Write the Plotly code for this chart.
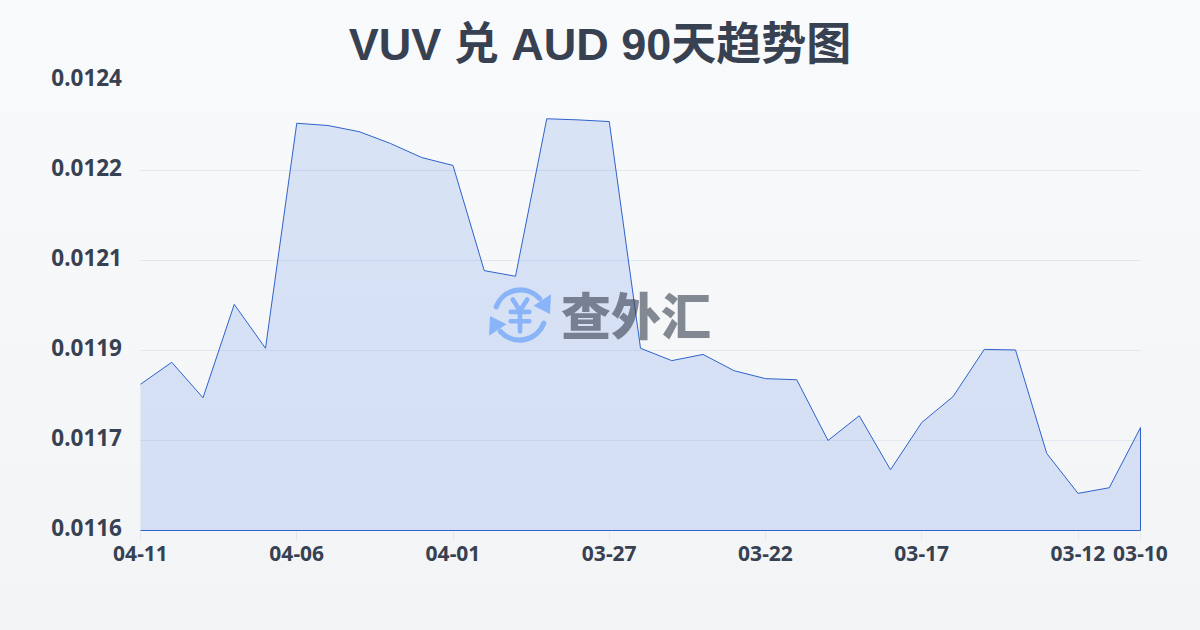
import base64
import plotly.graph_objects as go

dates = ["04-11","04-10","04-09","04-08","04-07","04-06","04-05","04-04","04-03","04-02","04-01",
         "03-31","03-30","03-29","03-28","03-27","03-26","03-25","03-24","03-23","03-22",
         "03-21","03-20","03-19","03-18","03-17","03-16","03-15","03-14","03-13","03-12","03-11","03-10"]
rates = [0.011840,0.011879,0.011816,0.011982,0.011904,0.012304,0.012300,0.012289,0.012268,0.012243,0.012229,
         0.012042,0.012032,0.012312,0.012310,0.012307,0.011904,0.011882,0.011893,0.011864,0.011850,
         0.011848,0.011740,0.011784,0.011688,0.011772,0.011818,0.011902,0.011901,0.011717,0.011646,0.011656,0.011763]
x_ticks = ["04-11","04-06","04-01","03-27","03-22","03-17","03-12","03-10"]
y_ticks = [0.01158,0.01174,0.01190,0.01206,0.01222,0.01238]
y_labels = ["0.0116","0.0117","0.0119","0.0121","0.0122","0.0124"]
base = y_ticks[0]
top = y_ticks[-1]
x_pad = 0.5 / 1000 * (len(dates) - 1)
y_pad = 0.5 / 450 * (top - base)

LOGO = """<svg xmlns='http://www.w3.org/2000/svg' viewBox='0 0 60 60' width='60' height='60'>
<g fill='none' stroke='#8ab4f8' stroke-width='5' stroke-linecap='round' stroke-linejoin='round'>
<path d='M7 22 A25 25 0 0 1 49 14'/><path d='M53 38 A25 25 0 0 1 11 46'/>
<path d='M23 15 L30 26 L37 15 M30 26 V46 M21 27 H39 M21 36 H39' stroke-width='4.5'/></g>
<path d='M60 10 L59 29 L43 21 Z M0 50 L1 31 L17 39 Z' fill='#8ab4f8'/></svg>"""
logo_uri = "data:image/svg+xml;base64," + base64.b64encode(LOGO.encode()).decode()

fig = go.Figure()
fig.add_trace(go.Scatter(
    x=dates + [dates[-1], dates[0]],
    y=rates + [base, base],
    mode="lines",
    fill="toself",
    fillcolor="rgba(42,98,222,0.15)",
    line=dict(color="#2f62cc", width=1),
    cliponaxis=False,
    hoverinfo="skip",
    showlegend=False,
))
fig.update_layout(
    width=1200, height=630,
    margin=dict(l=140, r=59, t=80, b=99),
    paper_bgcolor="rgba(0,0,0,0)",
    plot_bgcolor="rgba(0,0,0,0)",
    font=dict(family="Noto Sans, Noto Sans CJK SC, sans-serif", color="#374151"),
    title=dict(text="<b>VUV 兑 AUD 90天趋势图</b>",
               x=0.5, xanchor="center", y=0.929, yanchor="middle",
               font=dict(size=45, color="#374151", family="Liberation Sans, Noto Sans CJK SC, sans-serif")),
    xaxis=dict(type="category", categoryorder="array", categoryarray=dates,
               range=[-x_pad, len(dates) - 1 + x_pad], tickmode="array", tickvals=x_ticks,
               ticktext=[f"<b>{t}</b>" for t in x_ticks],
               showgrid=False, zeroline=False, showline=False,
               ticks="outside", ticklen=8, tickwidth=1, tickcolor="#e2e8f0",
               ticklabelstandoff=-4,
               tickfont=dict(size=21, color="#374151"), tickangle=0),
    yaxis=dict(range=[base - y_pad, top + y_pad], tickmode="array", tickvals=y_ticks,
               ticktext=[f"<b>{t}</b>" for t in y_labels],
               showgrid=True, gridcolor="#e2e8f0", gridwidth=1,
               zeroline=False, showline=False, ticks="", ticklabelstandoff=17,
               ticklabelshift=-2,
               tickfont=dict(size=22.5, color="#374151")),
    images=[dict(source=logo_uri, xref="paper", yref="paper",
                 x=(489 - 140) / 1001, y=(531 - 284) / 451, sizex=62 / 1001, sizey=62 / 451,
                 xanchor="left", yanchor="top", layer="above", opacity=1)],
    annotations=[dict(text="查外汇", xref="paper", yref="paper",
                      x=(636 - 140) / 1001, y=(531 - 313) / 451, xanchor="center", yanchor="middle",
                      showarrow=False, opacity=0.6,
                      font=dict(size=50, color="#374151", family="Noto Sans CJK SC", weight=900))],
)
fig.write_html("out.html", config={"displayModeBar": False}, post_script="""
document.documentElement.style.height='100%';
document.body.style.margin='0';
document.body.style.minHeight='630px';
document.body.style.background='linear-gradient(180deg,#f8fafc 0%,#f3f4f6 100%)';
""")
